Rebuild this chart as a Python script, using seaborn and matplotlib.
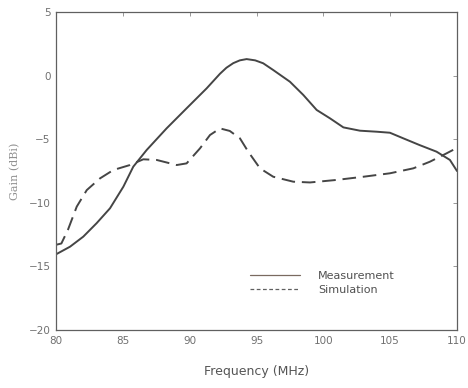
import pandas as pd
import seaborn as sns
import matplotlib.pyplot as plt

# values
freq_meas = [80, 81.05, 82.04, 83.04, 84.04, 85.04, 85.78, 86.78, 88.27, 89.77,
             91.27, 92.27, 92.75, 93.26, 93.75, 94.26, 94.9, 95.5, 96.25, 97.5,
             98.5, 99.5, 100.5, 101.5, 102.74, 103.99, 104.98, 105.98, 107.2,
             108.47, 109.47, 110]
gain_meas = [-14.05, -13.45, -12.66, -11.6, -10.43, -8.73, -7.16, -5.85, -4.15,
             -2.57, -1.0, 0.15, 0.62, 0.98, 1.2, 1.3, 1.2, 0.97, 0.44, -0.48,
             -1.52, -2.7, -3.36, -4.07, -4.33, -4.41, -4.49, -4.93, -5.46, -5.98,
             -6.63, -7.5]
freq_sim = [80, 80.4, 80.9, 81.55, 82.3, 83.29, 84.29, 85.53, 86.53, 87.53, 89.03,
            89.77, 90.77, 91.52, 92.27, 93.0, 93.76, 94.38, 95.26, 96.25, 97.75,
            99.0, 101.0, 103.0, 104.98, 106.73, 107.97, 109.22, 110]
gain_sim = [-13.3, -13.2, -12.1, -10.3, -9.0, -8.08, -7.42, -7.03, -6.58, -6.63,
            -7.03, -6.9, -5.72, -4.67, -4.15, -4.35, -4.93, -5.98, -7.29, -7.95,
            -8.34, -8.4, -8.2, -7.95, -7.68, -7.29, -6.77, -6.11, -5.68]

meas = pd.DataFrame({'freq': freq_meas, 'gain': gain_meas})
sim = pd.DataFrame({'freq': freq_sim, 'gain': gain_sim})

sns.set_style('white')
plt.rcParams['font.family'] = ['DejaVu Sans']

fig = plt.figure(figsize=(4.68, 3.88), dpi=100)
ax = fig.add_axes([0.1197, 0.1495, 0.8568, 0.8195])

sns.lineplot(data=meas, x='freq', y='gain', ax=ax, color='#454545',
             linewidth=1.4, label='Measurement')
sns.lineplot(data=sim, x='freq', y='gain', ax=ax, color='#454545',
             linewidth=1.4, label='Simulation')
ax.lines[1].set_dashes((7, 3.5))

ax.set_xlim(80, 110)
ax.set_ylim(-20, 5)
ax.set_xticks(range(80, 111, 5))
ax.set_yticks(range(-20, 6, 5))
ax.tick_params(direction='in', length=3, width=0.6, colors='#888888',
               labelcolor='#707070', labelsize=7.5, top=True, right=True,
               pad=4)
for s in ax.spines.values():
    s.set_color('#606060')
    s.set_linewidth(0.9)

ax.set_xlabel('Frequency (MHz)', fontsize=9, color='#555555', labelpad=14)
ax.set_ylabel('Gain (dBi)', fontsize=8, color='#909090', family='DejaVu Serif',
              labelpad=6)

leg = ax.legend(loc='lower right', bbox_to_anchor=(0.87, 0.08), frameon=False,
                fontsize=8, handlelength=4.5, handletextpad=1.6,
                labelspacing=0.3)
for t in leg.get_texts():
    t.set_color('#505050')
leg.get_lines()[0].set_color('#7a6a60')
leg.get_lines()[0].set_linewidth(0.9)
leg.get_lines()[1].set_color('#606060')
leg.get_lines()[1].set_linewidth(0.9)
leg.get_lines()[1].set_dashes((3, 2))

fig.savefig('out.png', dpi=100)
